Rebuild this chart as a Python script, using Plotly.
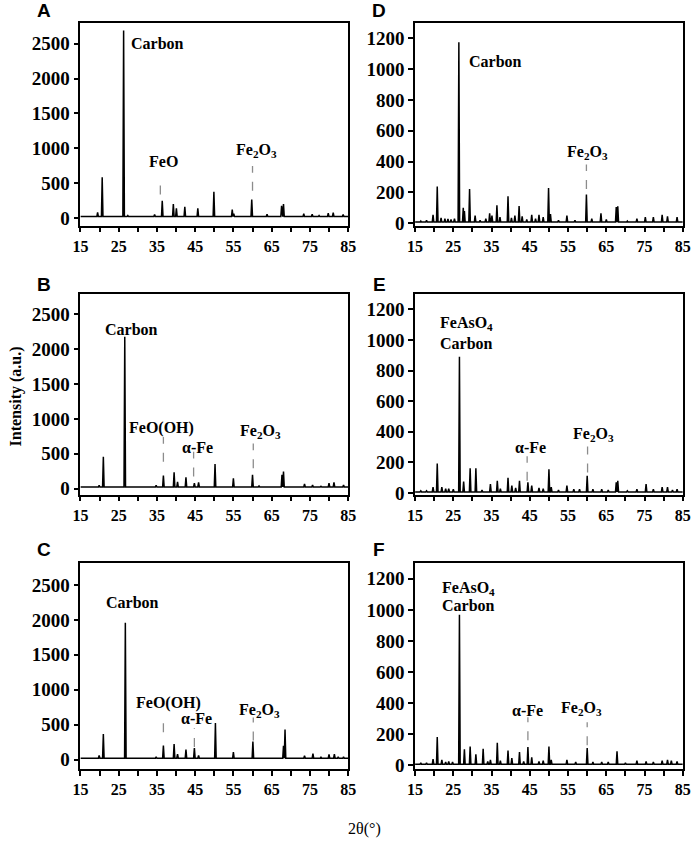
import plotly.graph_objects as go

# ---- peak lists (2theta in deg, intensity a.u.) ----
A_pos = [19.5, 20.7, 26.3, 27.4, 34.4, 36.4, 39.3, 40.1, 42.3, 45.7, 49.9, 54.7, 55.1, 59.8,
         61.7, 63.8, 65.8, 67.6, 68.1, 73.4, 75.6, 77.4, 79.8, 81.1, 83.7]
A_int = [80, 585, 2690, 35, 50, 245, 200, 140, 160, 140, 377, 120, 60, 265,
         25, 55, 30, 175, 200, 60, 55, 35, 70, 75, 50]
A_base = 20

B_pos = [19.9, 21.0, 25.5, 26.6, 34.8, 36.7, 39.5, 40.4, 42.6, 44.8, 45.9, 50.2, 55.0, 60.0,
         61.7, 64.2, 67.7, 68.1, 73.6, 75.7, 77.9, 80.0, 81.3, 83.8]
B_int = [50, 459, 30, 2176, 50, 190, 237, 100, 165, 80, 90, 355, 150, 200,
         40, 35, 200, 245, 70, 55, 35, 80, 90, 55]
B_base = 25

C_pos = [19.9, 21.0, 25.5, 26.75, 30.0, 34.8, 36.7, 39.5, 40.4, 42.6, 44.8, 45.9, 50.3, 55.0,
         60.1, 61.8, 64.2, 68.1, 68.5, 73.6, 75.8, 77.9, 80.0, 81.4, 82.4, 83.8]
C_int = [60, 368, 25, 1958, 20, 40, 203, 222, 80, 146, 165, 60, 524, 110,
         260, 30, 30, 200, 430, 55, 85, 35, 75, 80, 40, 40]
C_base = 20

D_pos = [16.5, 18.0, 19.7, 20.8, 21.8, 22.8, 23.6, 24.4, 25.3, 26.45, 27.6, 27.9, 29.25, 30.7,
         32.0, 33.5, 34.5, 35.1, 36.4, 37.2, 39.3, 40.2, 41.1, 42.2, 43.0, 44.2, 45.5, 46.5,
         47.4, 48.5, 49.9, 50.4, 52.5, 54.7, 56.8, 59.8, 61.2, 63.6, 65.0, 67.6, 68.0, 70.5,
         73.0, 75.2, 77.3, 79.6, 81.0, 83.5]
D_int = [15, 20, 55, 238, 35, 30, 28, 25, 30, 1174, 100, 80, 223, 50,
         20, 30, 65, 50, 117, 40, 176, 35, 50, 112, 45, 25, 55, 30,
         55, 40, 229, 60, 20, 50, 20, 187, 30, 65, 25, 105, 110, 15,
         30, 40, 40, 55, 45, 40]
D_base = 8

E_pos = [16.5, 18.0, 19.7, 20.8, 22.0, 23.0, 23.8, 25.0, 26.6, 27.7, 29.4, 30.9, 32.5, 34.7,
         36.5, 37.3, 39.3, 40.3, 41.3, 42.3, 44.5, 45.5, 47.4, 48.5, 50.0, 50.6, 52.5, 54.7,
         56.5, 58.0, 60.0, 61.5, 63.8, 65.5, 67.6, 68.0, 70.5, 73.0, 75.4, 77.3, 79.6, 81.0,
         82.3, 83.5]
E_int = [15, 15, 40, 194, 40, 30, 30, 25, 890, 75, 162, 162, 20, 60,
         80, 30, 100, 50, 35, 80, 70, 50, 35, 30, 155, 40, 20, 50,
         25, 25, 113, 25, 25, 20, 70, 80, 15, 25, 60, 25, 40, 40,
         20, 25]
E_base = 8

F_pos = [16.5, 18.0, 19.7, 20.8, 22.0, 23.0, 23.8, 24.8, 26.6, 27.9, 29.4, 30.9, 32.8, 34.0,
         34.7, 36.5, 37.3, 39.3, 40.3, 42.3, 43.4, 44.5, 45.5, 47.4, 48.5, 50.0, 50.6, 54.7,
         57.0, 60.0, 61.5, 63.8, 65.5, 67.8, 70.0, 73.0, 75.4, 77.3, 79.6, 81.0, 82.0, 83.5]
F_int = [15, 15, 40, 181, 35, 20, 25, 20, 968, 102, 121, 70, 106, 25,
         35, 145, 30, 95, 45, 85, 25, 117, 50, 25, 30, 121, 35, 35,
         20, 110, 20, 20, 20, 90, 15, 30, 25, 20, 30, 35, 30, 25]
F_base = 6

X_TICKS = [15, 25, 35, 45, 55, 65, 75, 85]
Y_TICKS_LEFT = [0, 500, 1000, 1500, 2000, 2500]
Y_TICKS_RIGHT = [0, 200, 400, 600, 800, 1000, 1200]

LEFT = [0.106, 0.498]
RIGHT = [0.596, 0.988]
ROWS = [[0.732, 0.973], [0.4125, 0.651], [0.0866, 0.331]]
LETTER_X = [0.053, 0.5436]
LETTER_Y = [0.988, 0.662, 0.347]
# letter, peaks, heights, baseline, y range, column, row
panels = [
    ("A", A_pos, A_int, A_base, [-110, 2800], 0, 0),
    ("B", B_pos, B_int, B_base, [-85, 2790], 0, 1),
    ("C", C_pos, C_int, C_base, [-135, 2810], 0, 2),
    ("D", D_pos, D_int, D_base, [-15, 1300], 1, 0),
    ("E", E_pos, E_int, E_base, [-10, 1300], 1, 1),
    ("F", F_pos, F_int, F_base, [-25, 1300], 1, 2),
]

# phase labels: panel index, text, x, y, anchor ; dashed markers: panel, x, y0, y1
labels = [
    (0, "Carbon", 27.8, 2500, "left"), (0, "FeO", 36.6, 817, "center"),
    (0, "Fe<sub>2</sub>O<sub>3</sub>", 61.0, 973, "center"),
    (1, "Carbon", 28.3, 2285, "center"), (1, "FeO(OH)", 36.3, 868, "center"),
    (1, "α-Fe", 45.7, 585, "center"), (1, "Fe<sub>2</sub>O<sub>3</sub>", 62.1, 826, "center"),
    (2, "Carbon", 28.5, 2244, "center"), (2, "FeO(OH)", 38.0, 817, "center"),
    (2, "α-Fe", 45.3, 591, "center"), (2, "Fe<sub>2</sub>O<sub>3</sub>", 61.7, 700, "center"),
    (3, "Carbon", 28.7, 1051, "left"), (3, "Fe<sub>2</sub>O<sub>3</sub>", 60.1, 457, "center"),
    (4, "FeAsO<sub>4</sub>", 21.1, 1106, "left"), (4, "Carbon", 20.9, 978, "left"),
    (4, "α-Fe", 45.1, 299, "center"), (4, "Fe<sub>2</sub>O<sub>3</sub>", 61.7, 380, "center"),
    (5, "FeAsO<sub>4</sub>", 21.6, 1139, "left"), (5, "Carbon", 21.6, 1026, "left"),
    (5, "α-Fe", 44.3, 351, "center"), (5, "Fe<sub>2</sub>O<sub>3</sub>", 58.4, 362, "center"),
]
markers = [
    (0, 35.9, 336, 577), (0, 60.0, 390, 745),
    (1, 36.7, 387, 741), (1, 44.6, 174, 528), (1, 60.2, 293, 647),
    (2, 36.7, 392, 637), (2, 44.8, 180, 449), (2, 60.2, 275, 605),
    (3, 59.8, 223, 382),
    (4, 44.3, 81, 241), (4, 60.1, 135, 305),
    (5, 44.5, 160, 309), (5, 60.0, 128, 277),
]


def spectrum(pos, inten, base, w=0.2):
    xs, ys = [15], [base]
    for p, h in sorted(zip(pos, inten)):
        xs += [p - w, p, p + w]
        ys += [base, h, base]
    xs.append(85)
    ys.append(base)
    return xs, ys


SERIF = "Liberation Serif"
fig = go.Figure()
layout = {}
annotations = []
shapes = []

for i, (letter, pos, inten, base, yr, col, row) in enumerate(panels):
    n = i + 1
    xdom = LEFT if col == 0 else RIGHT
    ydom = ROWS[row]
    yt = Y_TICKS_LEFT if col == 0 else Y_TICKS_RIGHT
    xs, ys = spectrum(pos, inten, base)
    fig.add_trace(go.Scatter(x=xs, y=ys, mode="lines", xaxis=f"x{n}", yaxis=f"y{n}",
                             line=dict(color="black", width=1.5), showlegend=False,
                             hoverinfo="skip"))
    layout[f"xaxis{n}"] = dict(
        domain=xdom, anchor=f"y{n}", range=[15, 85],
        tickvals=X_TICKS, ticktext=[f"<b>{v}</b>" for v in X_TICKS],
        showline=True, mirror=True, linecolor="black", linewidth=1.5,
        ticks="outside", ticklen=5, tickwidth=1.5, tickcolor="black",
        minor=dict(ticks="outside", dtick=5, tick0=15, ticklen=5, tickwidth=1.5,
                   tickcolor="black", showgrid=False),
        showgrid=False, zeroline=False,
        tickfont=dict(family=SERIF, size=16, color="black"))
    layout[f"yaxis{n}"] = dict(
        domain=ydom, anchor=f"x{n}", range=yr,
        tickvals=yt, ticktext=[f"<b>{v}</b>" for v in yt],
        showline=True, mirror=True, linecolor="black", linewidth=1.5,
        ticks="outside", ticklen=5, tickwidth=1.5, tickcolor="black",
        showgrid=False, zeroline=False,
        tickfont=dict(family=SERIF, size=19, color="black"))
    annotations.append(dict(text=f"<b>{letter}</b>", xref="paper", yref="paper",
                            x=LETTER_X[col], y=LETTER_Y[row], xanchor="center",
                            yanchor="middle", showarrow=False,
                            font=dict(family="Liberation Sans", size=19, color="black")))

for p, text, x, y, anc in labels:
    annotations.append(dict(text=f"<b>{text}</b>", x=x, y=y, xref=f"x{p+1}", yref=f"y{p+1}",
                            xanchor=anc, yanchor="middle", showarrow=False,
                            font=dict(family=SERIF, size=16, color="black")))

for p, x, y0, y1 in markers:
    shapes.append(dict(type="line", xref=f"x{p+1}", yref=f"y{p+1}", x0=x, x1=x, y0=y0, y1=y1,
                       line=dict(color="#8c8c8c", width=1.3, dash="dash")))

annotations.append(dict(text="<b>Intensity (a.u.)</b>", xref="paper", yref="paper",
                        x=0.0115, y=0.529, xanchor="center", yanchor="middle",
                        textangle=-90, showarrow=False,
                        font=dict(family=SERIF, size=16, color="black")))
annotations.append(dict(text="2θ(°)", xref="paper", yref="paper", x=0.522, y=0.0153,
                        xanchor="center", yanchor="middle", showarrow=False,
                        font=dict(family=SERIF, size=16, color="black")))

fig.update_layout(width=699, height=851, margin=dict(l=0, r=0, t=0, b=0),
                  paper_bgcolor="white", plot_bgcolor="white",
                  annotations=annotations, shapes=shapes, **layout)

# page body has a default 8px margin; drop it so the figure fills the window
fig.write_html("out.html", config={"displayModeBar": False},
               post_script="document.body.style.margin='0px';")
